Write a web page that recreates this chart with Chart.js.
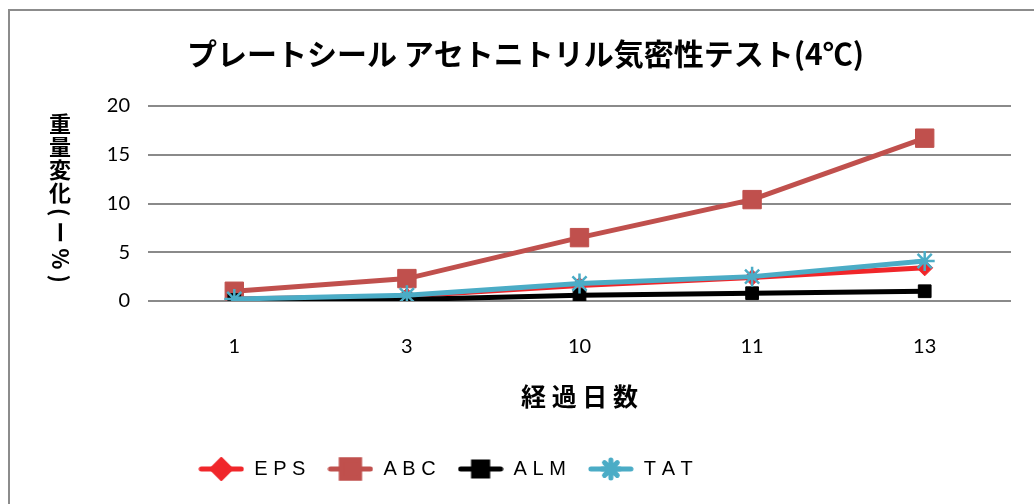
<!DOCTYPE html>
<html>
<head>
<meta charset="utf-8">
<script src="https://cdn.jsdelivr.net/npm/chart.js@4.4.0/dist/chart.umd.min.js"></script>
<style>
  body { margin: 0; background: #fff; }
  #wrap { width: 1034px; height: 504px; }
</style>
</head>
<body>
<div id="wrap"><canvas id="gasChart" width="1034" height="504"></canvas></div>
<script>
const days = ['1', '3', '10', '11', '13'];
const seriesNames = ['E P S', 'A B C', 'A L M', 'T A T'];
const eps = [0.2, 0.5, 1.6, 2.4, 3.4];
const abc = [1.0, 2.3, 6.5, 10.4, 16.7];
const alm = [0.1, 0.15, 0.6, 0.8, 1.0];
const tat = [0.2, 0.6, 1.8, 2.5, 4.1];
const yTicks = [0, 5, 10, 15, 20];

const chartTitle = 'プレートシール アセトニトリル気密性テスト(4℃)';
const xTitle = '経 過 日 数';
const yTitle = '重量変化(ー%)';

const jpFont = '"Noto Sans CJK JP", "Noto Sans", sans-serif';
const numFont = 'Lato, "Open Sans", sans-serif';

// small canvas used as legend icon: a thick line with the marker in the middle
function legendIcon(color, style, r) {
  const c = document.createElement('canvas');
  c.width = 46; c.height = 24;
  const g = c.getContext('2d');
  g.strokeStyle = color; g.lineWidth = 5; g.lineCap = 'round';
  g.beginPath(); g.moveTo(3, 12); g.lineTo(43, 12); g.stroke();
  g.fillStyle = color; g.strokeStyle = color;
  Chart.helpers.drawPoint(g, {pointStyle: style, radius: r, borderWidth: style === 'star' ? 2 : 1}, 23, 12);
  return c;
}

const looks = [
  {color: '#f0262a', style: 'rectRot', r: 8, legendR: 9, order: 4},
  {color: '#c0504d', style: 'rect', r: 13, legendR: 13, order: 3},
  {color: '#000000', style: 'rect', r: 9, legendR: 10, order: 2},
  {color: '#4bacc6', style: 'star', r: 10, legendR: 9, order: 1}
];
const values = [eps, abc, alm, tat];

let datasets = [];
for (let i = 0; i < values.length; i++) {
  let lk = looks[i];
  datasets.push({
    label: seriesNames[i],
    data: values[i],
    borderColor: lk.color,
    backgroundColor: lk.color,
    borderWidth: 5,
    tension: 0,
    pointStyle: lk.style,
    pointRadius: lk.r,
    pointHoverRadius: lk.r,
    pointBorderWidth: lk.style === 'star' ? 2.5 : 1,
    pointBackgroundColor: lk.color,
    pointBorderColor: lk.color,
    order: lk.order
  });
}

const framePlugin = {
  id: 'frame',
  afterLayout(chart) {
    // excel had the legend dragged left of centre, title a bit right
    const lg = chart.legend;
    lg.left -= 60; lg.right -= 60;
    const tt = chart.titleBlock;
    tt.left += 20; tt.right += 20;
  },
  beforeDraw(chart) {
    const ctx = chart.ctx;
    ctx.save();
    ctx.strokeStyle = '#8c8c8c';
    ctx.lineWidth = 2;
    ctx.beginPath();
    ctx.moveTo(9, 504); ctx.lineTo(9, 10); ctx.lineTo(1034, 10);
    ctx.stroke();
    ctx.restore();
  },
  afterDraw(chart) {
    // vertical y title: kanji upright, brackets and symbols turned
    const ctx = chart.ctx;
    ctx.save();
    ctx.fillStyle = '#000';
    ctx.font = 'bold 22px ' + jpFont;
    ctx.textAlign = 'center';
    ctx.textBaseline = 'middle';
    let y = 113;
    for (const ch of yTitle) {
      if (/[\u4e00-\u9fff]/.test(ch)) {
        ctx.fillText(ch, 60, y + 11);
        y += 23;
      } else {
        const w = ctx.measureText(ch).width;
        ctx.save();
        ctx.translate(60, y + w / 2 + 3);
        ctx.rotate(Math.PI / 2);
        ctx.fillText(ch, 0, 0);
        ctx.restore();
        y += w + 5;
      }
    }
    ctx.restore();
  }
};

new Chart(document.getElementById('gasChart'), {
  type: 'line',
  data: {labels: days, datasets: datasets},
  options: {
    responsive: false,
    animation: false,
    layout: {padding: {left: 0, right: 23, top: 0, bottom: 15}},
    plugins: {
      title: {
        display: true,
        text: chartTitle,
        color: '#000',
        font: {family: jpFont, size: 30, weight: 'bold'},
        padding: {top: 36, bottom: 34}
      },
      legend: {
        position: 'bottom',
        labels: {
          usePointStyle: true,
          pointStyleWidth: 46,
          padding: 22,
          color: '#000',
          font: {family: '"Liberation Sans", Arial, sans-serif', size: 20},
          generateLabels(chart) {
            return chart.data.datasets.map((ds, i) => ({
              text: ds.label,
              pointStyle: legendIcon(looks[i].color, looks[i].style, looks[i].legendR),
              fillStyle: ds.borderColor,
              strokeStyle: ds.borderColor,
              lineWidth: 0,
              fontColor: '#000',
              datasetIndex: i,
              hidden: false
            }));
          }
        }
      },
      tooltip: {enabled: false}
    },
    scales: {
      x: {
        offset: true,
        afterFit(scale) { scale.height = 136; },
        grid: {display: false},
        border: {display: false},
        ticks: {color: '#000', padding: 26, maxRotation: 0, font: {family: numFont, size: 20}},
        title: {
          display: true,
          text: xTitle,
          color: '#000',
          font: {family: jpFont, size: 25, weight: 'bold'},
          padding: {top: 10, bottom: 26}
        }
      },
      y: {
        min: 0,
        max: 20,
        afterFit(scale) { scale.width = 148; },
        afterBuildTicks(scale) { scale.ticks = yTicks.map(v => ({value: v})); },
        grid: {color: '#8a8a8a', lineWidth: 2, drawTicks: false},
        border: {display: false},
        ticks: {color: '#000', padding: 18, font: {family: numFont, size: 20}}
      }
    }
  },
  plugins: [framePlugin]
});
</script>
</body>
</html>
